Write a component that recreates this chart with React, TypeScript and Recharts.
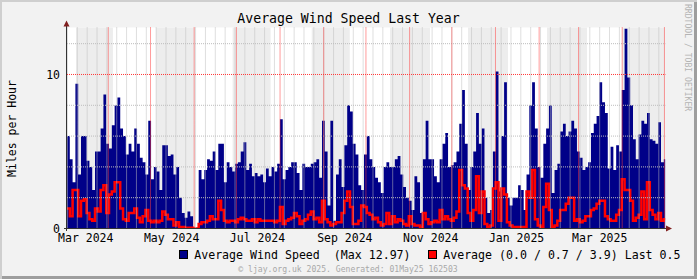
import { ComposedChart, Area, Line, XAxis, YAxis, ReferenceLine, ReferenceArea } from "recharts";

// days are counted from 1 Mar 2024 00:00
const START_DAY = 1.68;
const END_DAY = 426.68;
const DAY_STEP = 1.99;

const windAvg = [
  6.0, 4.5, 3.0, 9.4, 3.5, 6.0, 6.0, 4.4, 4.0, 2.5, 5.0, 5.0, 6.5, 8.7, 5.5, 5.2, 6.7, 8.0, 8.5, 6.5,
  6.0, 4.8, 5.5, 5.0, 6.5, 5.5, 4.6, 4.3, 3.5, 7.0, 3.2, 4.0, 3.7, 2.5, 5.4, 5.4, 4.7, 4.8, 3.5, 4.0,
  2.0, 1.0, 0.7, 1.1, 0.8, 0, 0, 3.8, 3.2, 3.8, 4.5, 4.4, 5.0, 3.8, 5.5, 5.5, 3.0, 4.3, 4.0, 3.7,
  4.2, 4.3, 5.0, 5.6, 3.8, 4.2, 3.4, 3.6, 3.4, 3.5, 3.0, 3.9, 3.4, 4.0, 3.7, 4.2, 7.1, 3.2, 3.8, 4.0,
  4.3, 4.3, 3.6, 2.5, 4.2, 4.0, 4.0, 4.2, 4.3, 4.5, 3.3, 7.0, 5.0, 1.5, 7.0, 0.5, 3.5, 4.5, 2.7, 5.4,
  8.0, 7.6, 5.5, 4.8, 2.8, 2.5, 4.8, 6.0, 4.5, 4.0, 3.3, 3.0, 2.3, 4.0, 4.3, 4.0, 4.0, 4.5, 4.7, 3.5,
  2.7, 2.0, 1.8, 1.2, 3.4, 3.0, 1.0, 4.5, 7.0, 4.5, 4.5, 3.4, 3.0, 4.5, 5.5, 6.2, 4.0, 4.1, 4.3, 5.0,
  6.8, 9.0, 5.5, 2.5, 4.0, 5.0, 7.5, 5.5, 6.5, 2.0, 1.0, 1.2, 5.0, 10.2, 2.4, 6.0, 9.5, 2.0, 1.5, 2.0,
  2.0, 2.8, 2.5, 1.2, 3.5, 8.0, 9.5, 6.5, 4.0, 3.3, 5.5, 6.5, 8.0, 2.3, 3.8, 4.2, 6.3, 6.8, 6.0, 6.3,
  7.0, 6.5, 5.0, 4.6, 3.8, 4.0, 4.3, 6.2, 6.8, 7.3, 9.5, 8.2, 7.5, 3.9, 5.3, 3.8, 5.4, 5.0, 9.0, 12.97,
  9.8, 8.0, 5.8, 4.5, 6.1, 7.0, 6.8, 7.5, 5.8, 5.7, 5.5, 6.9, 4.3, 4.5,
];

const windMean = [
  1.3, 0.8, 2.5, 2.5, 0.8, 1.8, 1.9, 1.0, 0.6, 0.5, 1.3, 1.1, 2.5, 2.8, 1.0, 2.2, 2.4, 3.0, 3.0, 1.3,
  0.6, 0.5, 1.0, 1.0, 1.3, 0.7, 0.4, 0.8, 1.2, 0.5, 0.4, 0.5, 0.4, 0.5, 1.1, 0.9, 0.6, 0.6, 0.2, 0.4,
  0.1, 0.1, 0.05, 0.05, 0.05, 0, 0, 0.3, 0.4, 0.4, 0.5, 0.8, 0.6, 0.6, 1.8, 1.2, 0.5, 0.4, 0.5, 0.5,
  0.4, 0.6, 0.7, 0.6, 0.5, 0.5, 0.6, 0.4, 0.6, 0.5, 0.5, 0.5, 0.5, 0.5, 0.4, 0.5, 1.4, 0.3, 0.5, 0.6,
  0.7, 1.0, 0.8, 0.3, 0.5, 0.6, 0.9, 1.1, 0.6, 0.7, 0.4, 1.8, 0.6, 0.4, 0.2, 0.3, 0.4, 0.4, 1.0, 1.8,
  2.4, 1.4, 0.3, 0.3, 0.5, 1.5, 1.4, 1.0, 0.9, 0.6, 0.7, 0.4, 0.2, 0.3, 1.0, 0.3, 0.8, 0.4, 0.6, 0.5,
  0.3, 0.2, 0.8, 0.3, 0.2, 0.2, 0.1, 1.0, 0.6, 0.3, 0.4, 0.5, 0.4, 1.2, 0.6, 0.8, 0.6, 0.5, 0.7, 1.1,
  3.8, 2.8, 2.6, 1.0, 0.5, 1.2, 3.4, 1.0, 2.4, 0.3, 0.1, 0.2, 2.6, 3.0, 0.5, 2.6, 2.2, 0.4, 0.2, 0.1,
  0.1, 0.1, 0.1, 0.1, 2.4, 2.0, 3.8, 0.6, 0.2, 0.1, 1.4, 2.9, 1.2, 0.1, 0.2, 0.5, 1.2, 1.2, 1.6, 2.0,
  2.0, 0.5, 0.6, 0.4, 0.5, 0.8, 0.8, 1.2, 1.3, 1.6, 1.8, 1.8, 0.8, 0.6, 0.5, 0.5, 0.9, 1.2, 3.2, 2.5,
  2.5, 1.8, 0.5, 0.7, 0.9, 2.4, 0.6, 3.0, 1.2, 0.9, 0.6, 1.0, 0.5, 0.6,
];

const monthLabels = ["Mar 2024", "May 2024", "Jul 2024", "Sep 2024", "Nov 2024", "Jan 2025", "Mar 2025"];
const labelDates = [[2024, 2, 16], [2024, 4, 16], [2024, 6, 16], [2024, 8, 16], [2024, 10, 16], [2025, 0, 16], [2025, 2, 16]];

// alternating shaded 4-week bands (day ranges)
const shadeBands = [[8.1, 34.3], [64.9, 92.6], [119.3, 146.3], [175.5, 202.5], [231.1, 259.5], [286.5, 314.9], [342.6, 371.0], [395.8, 426.68]];

const yMinorGrid = [2, 4, 6, 8, 12];
const yMajorGrid = [10];

const FONT = "'DejaVu Sans Mono', monospace";
const BLUE = "#000088";
const RED = "#FF0000";
const MINOR = "#BDBDBD";
const MAJOR = "#FF3838";

const ORIGIN = Date.UTC(2024, 2, 1);
const toDay = (y: number, m: number, d: number) => (Date.UTC(y, m, d) - ORIGIN) / 86400000;

const rows = windAvg.map((v, i) => ({ day: START_DAY + i * DAY_STEP, avg: v, mean: windMean[i] }));
rows.push({ day: END_DAY, avg: windAvg[windAvg.length - 1], mean: windMean[windMean.length - 1] });

const labelTicks = labelDates.map(([y, m, d]) => toDay(y, m, d));

const monthStarts: number[] = [];
for (let k = 1; k <= 14; k++) {
  const d = toDay(2024, 2 + k, 1);
  if (d > START_DAY && d < END_DAY) monthStarts.push(d);
}
const sundays: number[] = [];
for (let d = 0; d < END_DAY; d++) {
  if (d > START_DAY && new Date(ORIGIN + d * 86400000).getUTCDay() === 0) sundays.push(d);
}

export default function App() {
  return (
    <div
      style={{
        position: "relative",
        width: 697,
        height: 279,
        background: "#F2F2F2",
        boxShadow: "inset 2px 2px 0 #CFCFCF, inset -3px -3px 0 #9E9E9E",
        overflow: "hidden",
      }}
    >
      <style>{`body{margin:0}`}</style>
      <div style={{ position: "absolute", left: 0, top: 0 }}>
        <ComposedChart width={697} height={279} data={rows} margin={{ top: 27.5, right: 31.6, bottom: 0, left: 7 }}>
          <XAxis
            dataKey="day"
            type="number"
            domain={[START_DAY, END_DAY]}
            allowDataOverflow
            ticks={labelTicks}
            interval={0}
            tickFormatter={(v: number) => monthLabels[labelTicks.indexOf(v)] ?? ""}
            tickLine={false}
            axisLine={false}
            tickSize={0}
            tickMargin={5}
            height={50.5}
            tick={{ fill: "#000", fontSize: 11.5, fontFamily: FONT }}
          />
          <YAxis
            type="number"
            domain={[0, 13.05]}
            allowDataOverflow
            ticks={[0, 10]}
            interval={0}
            tickLine={false}
            axisLine={false}
            tickSize={0}
            tickMargin={7}
            width={60}
            tick={{ fill: "#000", fontSize: 11.5, fontFamily: FONT }}
          />
          <ReferenceArea x1={START_DAY} x2={END_DAY} fill="#FFFFFF" fillOpacity={1} stroke="none" />
          {shadeBands.map(([a, b], i) => (
            <ReferenceArea key={"s" + i} x1={a} x2={b} fill="#EDEDED" fillOpacity={1} stroke="none" />
          ))}
          <Area
            dataKey="avg"
            type="stepAfter"
            fill={BLUE}
            fillOpacity={1}
            stroke="none"
            isAnimationActive={false}
            dot={false}
            activeDot={false}
          />
          <Line
            dataKey="mean"
            type="stepAfter"
            stroke={RED}
            strokeWidth={2.5}
            strokeLinejoin="miter"
            dot={false}
            activeDot={false}
            isAnimationActive={false}
          />
          {sundays.map((d) => (
            <ReferenceLine key={"w" + d} x={d} stroke={MINOR} strokeWidth={1} strokeDasharray="1 1" />
          ))}
          {yMinorGrid.map((v) => (
            <ReferenceLine key={"h" + v} y={v} stroke={MINOR} strokeWidth={1} strokeDasharray="1 1" />
          ))}
          {monthStarts.map((d) => (
            <ReferenceLine key={"m" + d} x={d} stroke={MAJOR} strokeWidth={1} strokeDasharray="1 1" />
          ))}
          {yMajorGrid.map((v) => (
            <ReferenceLine key={"M" + v} y={v} stroke={MAJOR} strokeWidth={1} strokeDasharray="1 1" />
          ))}
        </ComposedChart>
      </div>
      <svg
        width={697}
        height={279}
        style={{ position: "absolute", left: 0, top: 0, pointerEvents: "none" }}
        fontFamily={FONT}
      >
        {/* axes and arrows */}
        <line x1={66.5} y1={231} x2={66.5} y2={24} stroke="#333" strokeWidth={1} />
        <line x1={64} y1={228.5} x2={668} y2={228.5} stroke="#333" strokeWidth={1} />
        <polygon points="66.5,20.5 63.5,26.5 69.5,26.5" fill="#801F1F" />
        <polygon points="672,228.5 666,225.5 666,231.5" fill="#801F1F" />

        <text x={348.5} y={23} textAnchor="middle" fontSize={13.2} fill="#000">
          Average Wind Speed Last Year
        </text>
        <text transform="translate(15.5,128.5) rotate(-90)" textAnchor="middle" fontSize={11.5} fill="#000">
          Miles per Hour
        </text>

        <rect x={179.5} y={250.5} width={8} height={8} fill={BLUE} stroke="#000" strokeWidth={1} />
        <text x={194.2} y={258.6} fontSize={11.6} fill="#000" style={{ whiteSpace: "pre" }}>
          {"Average Wind Speed  (Max 12.97)"}
        </text>
        <rect x={428.5} y={250.5} width={8} height={8} fill={RED} stroke="#000" strokeWidth={1} />
        <text x={443.2} y={258.6} fontSize={11.6} fill="#000" style={{ whiteSpace: "pre" }}>
          {"Average (0.0 / 0.7 / 3.9) Last 0.5"}
        </text>

        <text x={348} y={272} textAnchor="middle" fontSize={8.1} fill="#A8A8A8">
          © ljay.org.uk 2025. Generated: 01May25 162503
        </text>
        <text transform="translate(685,4) rotate(90)" fontSize={8.1} fill="#B4B4B4">
          RRDTOOL / TOBI OETIKER
        </text>
      </svg>
    </div>
  );
}
